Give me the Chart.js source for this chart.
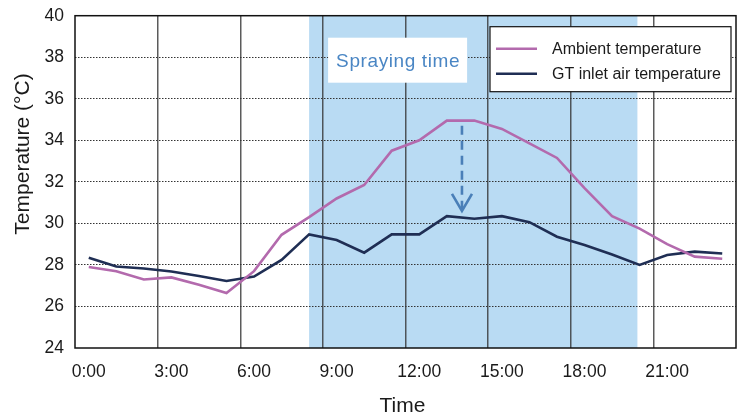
<!DOCTYPE html>
<html>
<head>
<meta charset="utf-8">
<script src="https://cdn.jsdelivr.net/npm/chart.js@4.4.1/dist/chart.umd.min.js"></script>
<style>
  html, body { margin: 0; padding: 0; background: #fff; }
  #wrap { width: 739px; height: 414px; position: relative; }
</style>
</head>
<body>
<div id="wrap"><canvas id="temp-chart"></canvas></div>
<script>
// hours of the day (one category per hour)
const hours = ['0:00','1:00','2:00','3:00','4:00','5:00','6:00','7:00','8:00','9:00','10:00','11:00',
               '12:00','13:00','14:00','15:00','16:00','17:00','18:00','19:00','20:00','21:00','22:00','23:00'];

// temperatures in °C
const ambient = [27.9, 27.7, 27.3, 27.4, 27.05, 26.65, 27.7, 29.45, 30.3, 31.2, 31.85, 33.5,
                 34.0, 34.95, 34.95, 34.55, 33.85, 33.15, 31.7, 30.35, 29.75, 29.0, 28.4, 28.3];
const gtInlet = [28.35, 27.92, 27.83, 27.68, 27.47, 27.23, 27.44, 28.24, 29.47, 29.2, 28.59, 29.47,
                 29.47, 30.35, 30.22, 30.35, 30.06, 29.36, 28.96, 28.5, 28.0, 28.48, 28.64, 28.55];

const yTicks = [24, 26, 28, 30, 32, 34, 36, 38, 40];

// spraying period (hour index) and the arrow showing the drop
const sprayStart = 8;
const sprayEnd = 19.92;
const arrowHour = 13.55;
const arrowFrom = 34.7;
const arrowTo = 30.6;

const FONT = '"Liberation Sans", Arial, sans-serif';

const decor = {
  id: 'decor',
  beforeDraw(chart) {
    const {ctx, chartArea: a, scales: {x}} = chart;
    ctx.save();
    ctx.fillStyle = '#fff';
    ctx.fillRect(0, 0, chart.width, chart.height);
    // spraying band
    const x1 = x.getPixelForValue(sprayStart), x2 = x.getPixelForValue(sprayEnd);
    ctx.fillStyle = '#b9dbf3';
    ctx.fillRect(x1, a.top, x2 - x1, a.bottom - a.top);
    ctx.restore();
  },
  afterDatasetsDraw(chart) {
    const {ctx, scales: {x, y}} = chart;
    const ax = x.getPixelForValue(arrowHour);
    const y1 = y.getPixelForValue(arrowFrom), y2 = y.getPixelForValue(arrowTo);
    ctx.save();
    ctx.strokeStyle = '#4a7fb8';
    ctx.lineWidth = 2.6;
    ctx.setLineDash([9, 6]);
    ctx.beginPath();
    ctx.moveTo(ax, y1);
    ctx.lineTo(ax, y2 - 2);
    ctx.stroke();
    ctx.setLineDash([]);
    ctx.beginPath();
    ctx.moveTo(ax - 10, y2 - 17);
    ctx.lineTo(ax, y2);
    ctx.lineTo(ax + 10, y2 - 17);
    ctx.stroke();
    ctx.restore();
  },
  afterDraw(chart) {
    const {ctx, chartArea: a, scales: {x}} = chart;
    ctx.save();

    // "Spraying time" label
    const bx = x.getPixelForValue(sprayStart) + 19;
    ctx.fillStyle = '#fff';
    ctx.fillRect(bx, a.top + 22, 139, 45);
    ctx.fillStyle = '#4a86c4';
    ctx.font = '19px ' + FONT;
    ctx.textAlign = 'center';
    ctx.textBaseline = 'middle';
    ctx.letterSpacing = '0.6px';
    ctx.fillText('Spraying time', bx + 70, a.top + 46);
    ctx.letterSpacing = '0px';

    // legend box
    const lx = a.right - 246, ly = a.top + 11, lw = 241, lh = 65;
    ctx.fillStyle = '#fff';
    ctx.fillRect(lx, ly, lw, lh);
    ctx.strokeStyle = '#111';
    ctx.lineWidth = 1.2;
    ctx.strokeRect(lx, ly, lw, lh);
    ctx.font = '16px ' + FONT;
    ctx.textAlign = 'left';
    chart.data.datasets.forEach((ds, i) => {
      const ry = ly + 22 + i * 25;
      ctx.strokeStyle = ds.borderColor;
      ctx.lineWidth = 2.6;
      ctx.beginPath();
      ctx.moveTo(lx + 6, ry);
      ctx.lineTo(lx + 47, ry);
      ctx.stroke();
      ctx.fillStyle = '#1a1a1a';
      ctx.fillText(ds.label, lx + 62, ry + 1);
    });

    // plot frame
    ctx.strokeStyle = '#111';
    ctx.lineWidth = 1.5;
    ctx.strokeRect(a.left, a.top, a.right - a.left, a.bottom - a.top);

    // axis titles
    ctx.fillStyle = '#1a1a1a';
    ctx.font = '21px ' + FONT;
    ctx.textAlign = 'center';
    ctx.textBaseline = 'alphabetic';
    ctx.fillText('Time', (a.left + a.right) / 2 - 3, 412);
    ctx.translate(29, 154);
    ctx.rotate(-Math.PI / 2);
    ctx.fillText('Temperature (°C)', 0, 0);
    ctx.restore();
  }
};

new Chart(document.getElementById('temp-chart'), {
  type: 'line',
  data: {
    labels: hours,
    datasets: [
      {
        label: 'Ambient temperature',
        data: ambient,
        borderColor: '#b36aad',
        borderWidth: 2.6,
        pointRadius: 0,
        tension: 0
      },
      {
        label: 'GT inlet air temperature',
        data: gtInlet,
        borderColor: '#1f2e54',
        borderWidth: 2.6,
        pointRadius: 0,
        tension: 0
      }
    ]
  },
  options: {
    responsive: true,
    maintainAspectRatio: false,
    animation: false,
    layout: { padding: { left: 0, right: 3, top: 15.7, bottom: 0 } },
    plugins: { legend: { display: false }, tooltip: { enabled: false } },
    scales: {
      x: {
        offset: true,
        grid: {
          offset: true,
          drawTicks: false,
          lineWidth: 1.5,
          color: (c) => (c.index % 3 === 0 && c.index > 0 && c.index < hours.length) ? 'rgba(50,50,50,0.8)' : 'transparent'
        },
        border: { display: false },
        ticks: {
          autoSkip: false,
          maxRotation: 0,
          padding: 14,
          color: '#1a1a1a',
          font: { family: FONT, size: 17.5 },
          callback: (v, i) => (i % 3 === 0 ? hours[i] : '')
        },
        afterFit: (s) => { s.height = 66; s.paddingLeft = 0; s.paddingRight = 0; }
      },
      y: {
        min: yTicks[0],
        max: yTicks[yTicks.length - 1],
        afterBuildTicks: (s) => { s.ticks = yTicks.map(v => ({ value: v })); },
        grid: {
          drawTicks: false,
          lineWidth: 1,
          color: (c) => (c.tick && (c.tick.value === 24 || c.tick.value === 40)) ? 'transparent' : '#333'
        },
        border: { display: false, dash: [1.5, 1.5] },
        ticks: {
          padding: 11,
          color: '#1a1a1a',
          font: { family: FONT, size: 17.5 }
        },
        afterFit: (s) => { s.width = 75; s.paddingTop = 0; s.paddingBottom = 0; }
      }
    }
  },
  plugins: [decor]
});
</script>
</body>
</html>
